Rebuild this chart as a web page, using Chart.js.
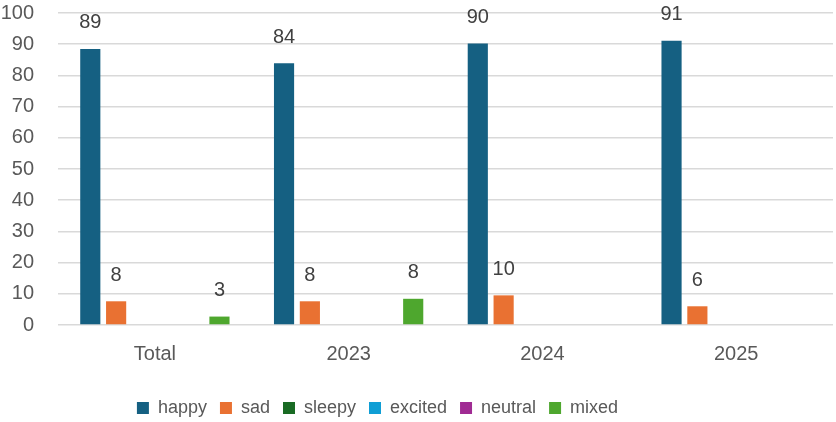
<!DOCTYPE html>
<html>
<head>
<meta charset="utf-8">
<script src="https://cdn.jsdelivr.net/npm/chart.js@4"></script>
<style>
	html, body { margin: 0; padding: 0; background: #ffffff; }
	#chart-container { width: 836px; height: 422px; }
</style>
</head>
<body>
<div id="chart-container"><canvas id="canvas-report"></canvas></div>
<script>
"use strict";

// chart data
var categories = ["Total", "2023", "2024", "2025"];
var happy   = [88.5, 83.9, 90.2, 91.1];
var sad     = [7.6, 7.6, 9.5, 6.0];
var sleepy  = [0, 0, 0, 0];
var excited = [0, 0, 0, 0];
var neutral = [0, 0, 0, 0];
var mixed   = [2.7, 8.4, 0, 0];
var yTicks  = [0, 10, 20, 30, 40, 50, 60, 70, 80, 90, 100];

var fontFamily = "'Liberation Sans', Arial, sans-serif";

// draws the rounded value above each bar (only for values > 0)
var valueLabels = {
	id: "valueLabels",
	afterDatasetsDraw: function(chart) {
		var ctx = chart.ctx;
		ctx.save();
		ctx.font = "20px " + fontFamily;
		ctx.fillStyle = "#404040";
		ctx.textAlign = "center";
		ctx.textBaseline = "middle";
		chart.data.datasets.forEach(function(ds, i) {
			var meta = chart.getDatasetMeta(i);
			meta.data.forEach(function(bar, j) {
				var v = ds.data[j];
				if (v > 0) {
					ctx.fillText(Math.round(v), bar.x, bar.y - 26);
				}
			});
		});
		ctx.restore();
	}
};

// legend in the original sits a bit left of the centre
var legendShift = {
	id: "legendShift",
	afterLayout: function(chart) {
		chart.legend.left -= 39;
		chart.legend.right -= 39;
	}
};

function series(label, data, color) {
	return {
		label: label,
		data: data,
		backgroundColor: color,
		borderWidth: 0,
		barPercentage: 0.78,
		categoryPercentage: 0.8
	};
}

var ctx = document.getElementById("canvas-report").getContext("2d");
var report = new Chart(ctx, {
	type: "bar",
	data: {
		labels: categories,
		datasets: [
			series("happy", happy, "#156082"),
			series("sad", sad, "#E97132"),
			series("sleepy", sleepy, "#196B24"),
			series("excited", excited, "#0F9ED5"),
			series("neutral", neutral, "#A02B93"),
			series("mixed", mixed, "#4EA72E")
		]
	},
	options: {
		responsive: true,
		maintainAspectRatio: false,
		animation: false,
		layout: { padding: { top: 13, right: 3, left: 0, bottom: -5 } },
		plugins: {
			legend: {
				position: "bottom",
				labels: {
					boxWidth: 12,
					boxHeight: 12,
					padding: 13,
					color: "#595959",
					font: { family: fontFamily, size: 18 }
				}
			},
			tooltip: { enabled: false }
		},
		scales: {
			x: {
				grid: { display: false, drawTicks: false },
				border: { display: false },
				ticks: {
					color: "#595959",
					padding: 17,
					font: { family: fontFamily, size: 20 }
				},
				afterFit: function(scale) { scale.height = 61; }
			},
			y: {
				min: 0,
				max: 100,
				afterBuildTicks: function(scale) {
					scale.ticks = yTicks.map(function(v) { return { value: v }; });
				},
				grid: { color: "#d9d9d9", lineWidth: 1.5, drawTicks: false },
				border: { display: false },
				ticks: {
					color: "#595959",
					padding: 24,
					font: { family: fontFamily, size: 20 }
				},
				afterFit: function(scale) {
					scale.width = 58;
					scale.paddingTop = 0;
					scale.paddingBottom = 0;
				}
			}
		}
	},
	plugins: [valueLabels, legendShift]
});
</script>
</body>
</html>
